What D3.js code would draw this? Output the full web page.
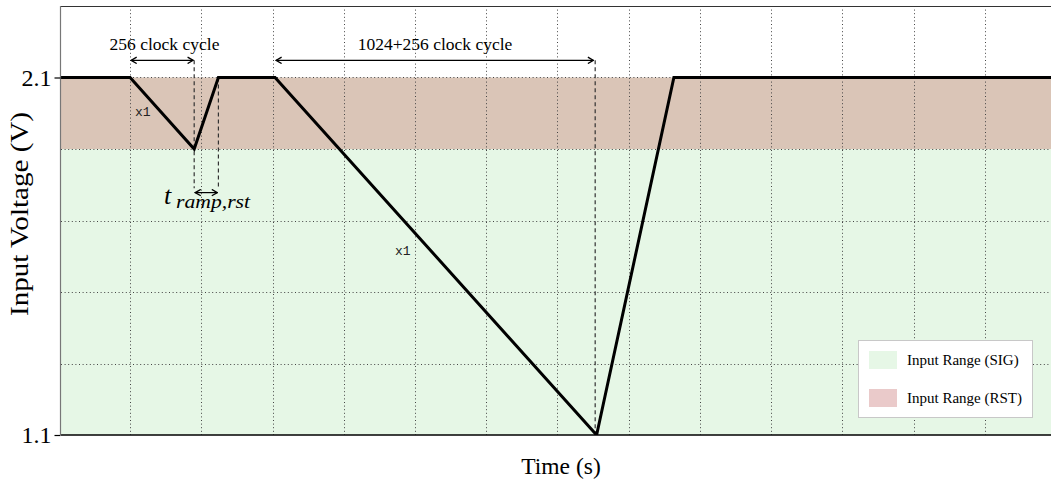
<!DOCTYPE html>
<html><head><meta charset="utf-8">
<script src="https://cdn.jsdelivr.net/npm/d3@7"></script>
<style>body{margin:0;background:#fff}svg{display:block}</style>
</head><body>
<svg id="c" width="1051" height="485"></svg>
<script>
// ---- data ----
const signalTime = [0.03, 1.0, 1.9, 2.24, 3.035, 7.55, 8.635, 14];
const signalVolt = [2.1, 2.1, 1.9, 2.1, 2.1, 1.1, 2.1, 2.1];
const sigBand = [1.1, 1.9];
const rstBand = [1.9, 2.1];
const yTickValues = [1.1, 2.1];
const yGridValues = [1.3, 1.5, 1.7, 1.9, 2.1];
const xGridValues = [1, 2, 3, 4, 5, 6, 7, 8, 9, 10, 11, 12, 13];
const legendLabels = ["Input Range (SIG)", "Input Range (RST)"];
const annot1Span = [1.0, 1.9];
const annot2Span = [3.035, 7.52];
const rampSpan = [1.9, 2.24];

// ---- layout ----
const svg = d3.select("#c");
const x = d3.scaleLinear().domain([0.03, 14]).range([61, 1056]);
const y = d3.scaleLinear().domain([1.1, 2.3]).range([435, 6]);
const serif = "'Liberation Serif','Times New Roman',serif";
const green = "#e6f7e6", rstCol = "#dac5b7", pink = "#eacaca";

svg.append("defs").append("clipPath").attr("id", "pa")
  .append("rect").attr("x", 61).attr("y", 6).attr("width", 1000).attr("height", 429);

const g = svg.append("g").attr("clip-path", "url(#pa)");
// bands
g.append("rect").attr("x", x(0.03)).attr("width", x(14) - x(0.03))
  .attr("y", y(sigBand[1])).attr("height", y(sigBand[0]) - y(sigBand[1])).attr("fill", green);
g.append("rect").attr("x", x(0.03)).attr("width", x(14) - x(0.03))
  .attr("y", y(rstBand[1])).attr("height", y(rstBand[0]) - y(rstBand[1])).attr("fill", rstCol);

// grid
g.selectAll(".vg").data(xGridValues).join("line")
  .attr("x1", d => Math.round(x(d)) + 0.5).attr("x2", d => Math.round(x(d)) + 0.5)
  .attr("y1", 6).attr("y2", 435)
  .attr("stroke", "#444").attr("stroke-width", 1).attr("stroke-dasharray", "1,2.6");
g.selectAll(".hg").data(yGridValues).join("line")
  .attr("x1", 61).attr("x2", 1056)
  .attr("y1", d => Math.round(y(d)) + 0.5).attr("y2", d => Math.round(y(d)) + 0.5)
  .attr("stroke", "#444").attr("stroke-width", 1).attr("stroke-dasharray", "1,2.6");

// dashed annotation verticals
const dashed = [
  {t: annot1Span[1], v0: 2.148, v1: 1.79},
  {t: rampSpan[1], v0: 2.1, v1: 1.79},
  {t: 7.53, v0: 2.148, v1: 1.1}
];
g.selectAll(".dv").data(dashed).join("line")
  .attr("x1", d => x(d.t)).attr("x2", d => x(d.t))
  .attr("y1", d => y(d.v0)).attr("y2", d => y(d.v1))
  .attr("stroke", "#333").attr("stroke-width", 1.2).attr("stroke-dasharray", "4,3");

// signal line
const pts = signalTime.map((t, i) => [t, signalVolt[i]]);
g.append("path").datum(pts)
  .attr("d", d3.line().x(d => x(d[0])).y(d => y(d[1])))
  .attr("fill", "none").attr("stroke", "#000").attr("stroke-width", 3)
  .attr("stroke-linejoin", "miter");

// axes
svg.append("line").attr("x1", 61).attr("x2", 1051).attr("y1", 6.5).attr("y2", 6.5)
  .attr("stroke", "#333").attr("stroke-width", 1);
svg.append("line").attr("x1", 61).attr("x2", 1051).attr("y1", 435).attr("y2", 435)
  .attr("stroke", "#000").attr("stroke-width", 1.5);
svg.append("line").attr("x1", 60.5).attr("x2", 60.5).attr("y1", 6).attr("y2", 435)
  .attr("stroke", "#777").attr("stroke-width", 1.2);

const yAxis = d3.axisLeft(y).tickValues(yTickValues).tickFormat(d3.format(".1f")).tickSize(6).tickPadding(3);
const ya = svg.append("g").attr("transform", "translate(60.5,0)").call(yAxis);
ya.select(".domain").remove();
ya.selectAll("line").attr("stroke", "#000").attr("stroke-width", 1.2);
ya.selectAll("text").attr("font-family", serif).attr("font-size", 24).attr("fill", "#000");

svg.append("text").attr("x", 561).attr("y", 474).attr("text-anchor", "middle")
  .attr("font-family", serif).attr("font-size", 23.5).text("Time (s)");
svg.append("text").attr("transform", "translate(28,214) rotate(-90)").attr("text-anchor", "middle")
  .attr("font-family", serif).attr("font-size", 25).attr("textLength", 204).attr("lengthAdjust", "spacingAndGlyphs")
  .text("Input Voltage (V)");

// arrow markers
const defs = svg.select("defs");
defs.append("marker").attr("id", "ah").attr("viewBox", "0 0 10 10")
  .attr("refX", 9).attr("refY", 5).attr("markerWidth", 8).attr("markerHeight", 8)
  .attr("markerUnits", "userSpaceOnUse").attr("orient", "auto-start-reverse")
  .append("path").attr("d", "M2,1 L9,5 L2,9").attr("fill", "none").attr("stroke", "#000").attr("stroke-width", 1.6);

const arrows = [
  {a: annot1Span[0], b: annot1Span[1], v: 2.148},
  {a: annot2Span[0], b: annot2Span[1], v: 2.148},
  {a: rampSpan[0], b: rampSpan[1], v: 1.778}
];
svg.selectAll(".ar").data(arrows).join("line")
  .attr("x1", d => x(d.a) + 1).attr("x2", d => x(d.b) - 1)
  .attr("y1", d => y(d.v)).attr("y2", d => y(d.v))
  .attr("stroke", "#000").attr("stroke-width", 1.2)
  .attr("marker-start", "url(#ah)").attr("marker-end", "url(#ah)");

svg.append("text").attr("x", 164.5).attr("y", 50)
  .attr("text-anchor", "middle").attr("font-family", serif).attr("font-size", 17.5).text("256 clock cycle");
svg.append("text").attr("x", 435).attr("y", 50)
  .attr("text-anchor", "middle").attr("font-family", serif).attr("font-size", 17.5).text("1024+256 clock cycle");

svg.append("text").attr("x", 164).attr("y", 204)
  .attr("font-family", serif).attr("font-style", "italic").attr("font-size", 26).text("t");
svg.append("text").attr("x", 176).attr("y", 208)
  .attr("font-family", serif).attr("font-style", "italic").attr("font-size", 18)
  .attr("textLength", 74).attr("lengthAdjust", "spacingAndGlyphs").text("ramp,rst");

const mono = "'Liberation Mono','DejaVu Sans Mono',monospace";
svg.append("text").attr("x", 135).attr("y", 116).attr("font-family", mono).attr("font-size", 13).attr("fill", "#222").text("x1");
svg.append("text").attr("x", 395).attr("y", 254.5).attr("font-family", mono).attr("font-size", 13).attr("fill", "#222").text("x1");

// legend
const lg = svg.append("g");
lg.append("rect").attr("x", 858.5).attr("y", 340.5).attr("width", 174).attr("height", 77)
  .attr("fill", "#fff").attr("stroke", "#c8c8c8").attr("stroke-width", 1);
const lcol = [green, pink];
legendLabels.forEach((l, i) => {
  lg.append("rect").attr("x", 869).attr("y", 351 + i * 38).attr("width", 28).attr("height", 18).attr("fill", lcol[i]);
  lg.append("text").attr("x", 907).attr("y", 365 + i * 38).attr("font-family", serif).attr("font-size", 15).text(l);
});
</script>
</body></html>
